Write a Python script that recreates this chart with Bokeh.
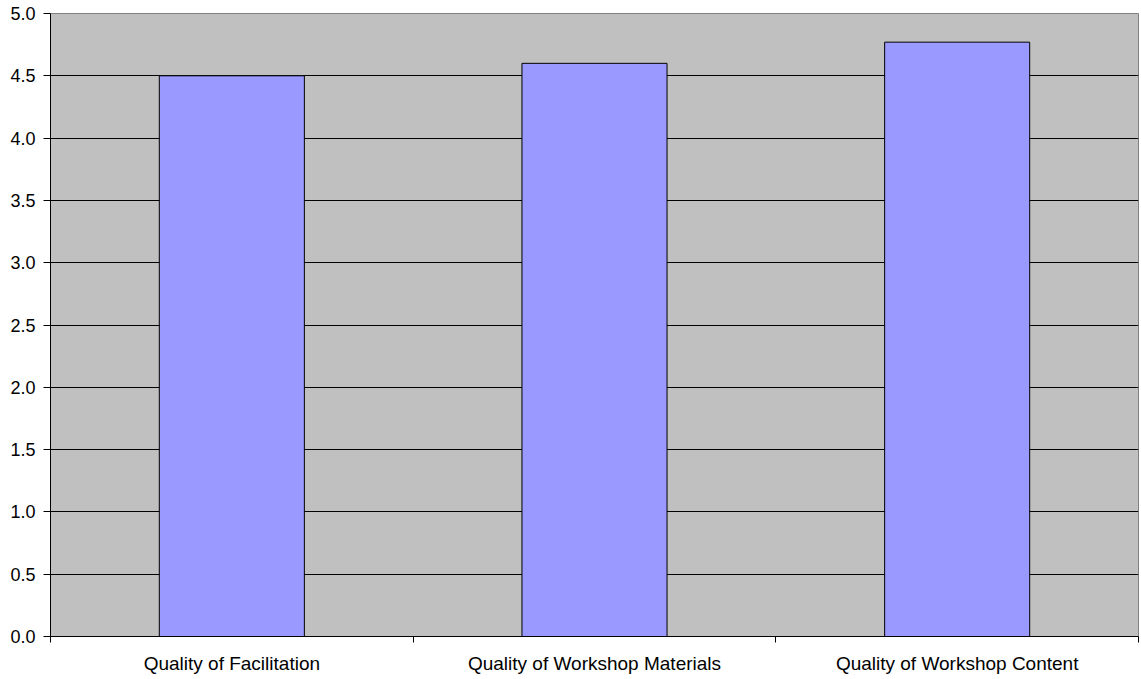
from bokeh.plotting import figure
from bokeh.models import FixedTicker, Range1d, ColumnDataSource
from bokeh.embed import file_html
from bokeh.resources import INLINE

categories = ["Quality of Facilitation", "Quality of Workshop Materials", "Quality of Workshop Content"]
values = [4.5, 4.6, 4.77]
y_ticks = [0.0, 0.5, 1.0, 1.5, 2.0, 2.5, 3.0, 3.5, 4.0, 4.5, 5.0]

xs = [i + 0.5 for i in range(len(categories))]
src = ColumnDataSource(dict(x=xs, top=values))

p = figure(width=1141, height=679, output_backend="svg", toolbar_location=None,
           x_range=Range1d(0, len(categories)), y_range=Range1d(0, 5.0),
           min_border_left=50, min_border_right=3, min_border_top=13, min_border_bottom=43)
p.background_fill_color = "#C0C0C0"
p.border_fill_color = "white"
p.outline_line_color = "#808080"
p.outline_line_width = 1

p.vbar(x="x", top="top", width=0.4, bottom=0, source=src,
       fill_color="#9999FF", line_color="black", line_width=1)

# Y axis
p.yaxis.ticker = FixedTicker(ticks=y_ticks)
p.yaxis.major_label_overrides = {t: f"{t:.1f}" for t in y_ticks}
p.yaxis.major_tick_in = 0
p.yaxis.major_tick_out = 7
p.yaxis.minor_tick_line_color = None
p.yaxis.axis_line_color = "black"
p.yaxis.major_label_text_font = "Liberation Sans"
p.yaxis.major_label_text_font_size = "18px"
p.yaxis.major_label_text_color = "black"
p.yaxis.major_label_standoff = 8

# X axis: labels at centers, ticks at category boundaries
p.xaxis.ticker = FixedTicker(ticks=xs, minor_ticks=list(range(len(categories) + 1)))
p.xaxis.major_label_overrides = {x: c for x, c in zip(xs, categories)}
p.xaxis.major_tick_line_color = None
p.xaxis.minor_tick_in = 0
p.xaxis.minor_tick_out = 6
p.xaxis.minor_tick_line_color = "black"
p.xaxis.axis_line_color = "black"
p.xaxis.major_label_text_font = "Liberation Sans"
p.xaxis.major_label_text_font_size = "19px"
p.xaxis.major_label_text_color = "black"
p.xaxis.major_label_standoff = 10

p.xgrid.grid_line_color = None
p.ygrid.ticker = FixedTicker(ticks=y_ticks)
p.ygrid.grid_line_color = "black"
p.ygrid.grid_line_width = 1

open("out.html", "w").write(file_html(p, INLINE))
